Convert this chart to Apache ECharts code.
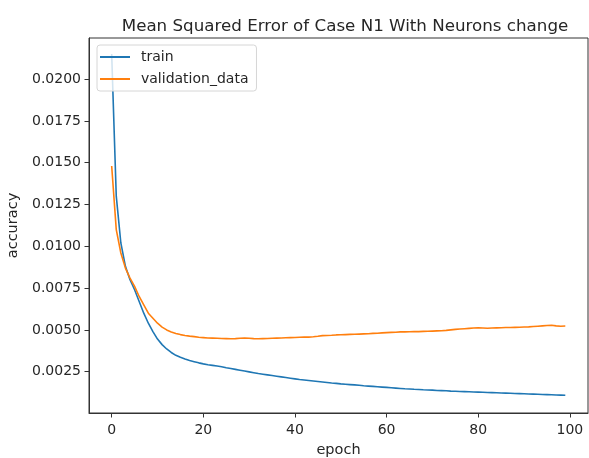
<!DOCTYPE html>
<html>
<head>
<meta charset="utf-8">
<script src="https://cdn.jsdelivr.net/npm/echarts@6/dist/echarts.min.js"></script>
<style>
  html, body { margin: 0; padding: 0; background: #fff; }
  #main { width: 589px; height: 458px; }
</style>
</head>
<body>
<div id="main"></div>
<script>
// one value per epoch (0..99)
var train = [
	0.0215, 0.0130, 0.0102, 0.0088, 0.0080, 0.0074, 0.0067, 0.0060, 0.0054, 0.0049,
	0.00445, 0.00412, 0.00386, 0.00365, 0.00348, 0.00336, 0.00326, 0.00317, 0.00310, 0.00303,
	0.00297, 0.00292, 0.00288, 0.00284, 0.00280, 0.00274, 0.00269, 0.00264, 0.00259, 0.00254,
	0.00249, 0.00244, 0.00239, 0.00235, 0.00231, 0.00227, 0.00223, 0.00219, 0.00215, 0.00211,
	0.00207, 0.00203, 0.00200, 0.00197, 0.00194, 0.00191, 0.00188, 0.00185, 0.00182, 0.00180,
	0.00177, 0.00175, 0.00173, 0.00171, 0.00169, 0.00166, 0.00164, 0.00162, 0.00160, 0.00158,
	0.00156, 0.00154, 0.00152, 0.00150, 0.00148, 0.00147, 0.00145, 0.00144, 0.00142, 0.00141,
	0.00140, 0.00138, 0.00137, 0.00136, 0.00134, 0.00133, 0.00132, 0.00131, 0.00130, 0.00129,
	0.00128, 0.00127, 0.00126, 0.00125, 0.00124, 0.00123, 0.00122, 0.00121, 0.00120, 0.00119,
	0.00118, 0.00117, 0.00116, 0.00115, 0.00114, 0.00113, 0.00112, 0.00111, 0.00110, 0.00109
];
var validation = [
	0.0148, 0.0110, 0.0096, 0.0087, 0.0081, 0.0076, 0.0070, 0.0065, 0.0060, 0.0057,
	0.00540, 0.00517, 0.00500, 0.00488, 0.00479, 0.00472, 0.00467, 0.00463, 0.00460, 0.00456,
	0.00454, 0.00452, 0.00451, 0.00450, 0.00449, 0.00448, 0.00447, 0.00448, 0.00450, 0.00451,
	0.00450, 0.00448, 0.00447, 0.00448, 0.00449, 0.00450, 0.00451, 0.00452, 0.00453, 0.00454,
	0.00455, 0.00456, 0.00457, 0.00457, 0.00459, 0.00462, 0.00466, 0.00467, 0.00468, 0.00470,
	0.00471, 0.00472, 0.00473, 0.00474, 0.00475, 0.00476, 0.00477, 0.00479, 0.00480, 0.00482,
	0.00484, 0.00485, 0.00486, 0.00488, 0.00488, 0.00489, 0.00490, 0.00490, 0.00491, 0.00492,
	0.00493, 0.00494, 0.00495, 0.00497, 0.00500, 0.00503, 0.00505, 0.00507, 0.00509, 0.00511,
	0.00512, 0.00511, 0.00510, 0.00511, 0.00512, 0.00513, 0.00514, 0.00514, 0.00515, 0.00516,
	0.00517, 0.00518, 0.00520, 0.00522, 0.00524, 0.00526, 0.00528, 0.00524, 0.00522, 0.00523
];
var xTicks = [0, 20, 40, 60, 80, 100];
var yTicks = [0.0025, 0.0050, 0.0075, 0.0100, 0.0125, 0.0150, 0.0175, 0.0200];
var seriesNames = ['train', 'validation_data'];

function pairs(arr) {
	var out = [];
	for (var i = 0; i < arr.length; i++) {
		out.push([i, arr[i]]);
	}
	return out;
}

var font = 'DejaVu Sans';
var ink = '#262626';

var myChart = echarts.init(document.getElementById('main'));

option = {
	animation: false,
	backgroundColor: '#fff',
	title: {
		text: 'Mean Squared Error of Case N1 With Neurons change',
		left: 340,
		textAlign: 'center',
		top: 13,
		textStyle: { fontFamily: font, fontSize: 16.7, fontWeight: 'normal', color: ink }
	},
	legend: {
		data: seriesNames,
		orient: 'vertical',
		left: 97,
		top: 45,
		padding: [5, 8, 5, 3],
		itemGap: 8,
		itemWidth: 30,
		itemHeight: 2,
		icon: 'rect',
		backgroundColor: 'rgba(255,255,255,0.8)',
		borderColor: '#d6d6d6',
		borderWidth: 1,
		borderRadius: 3,
		textStyle: { fontFamily: font, fontSize: 14, color: ink, padding: [0, 0, 0, 6] }
	},
	grid: {
		left: 89,
		right: 1,
		top: 38,
		bottom: 45,
		outerBoundsMode: 'none',
		containLabel: false,
		show: true,
		borderColor: '#333',
		borderWidth: 1
	},
	xAxis: {
		type: 'value',
		min: -4.95,
		max: 103.95,
		name: 'epoch',
		nameLocation: 'middle',
		nameGap: 30,
		nameTextStyle: { fontFamily: font, fontSize: 14.5, color: ink },
		splitLine: { show: false },
		axisLine: { show: true, onZero: false, lineStyle: { color: '#333' } },
		axisTick: { show: true, length: 4.5, customValues: xTicks, lineStyle: { color: '#333' } },
		axisLabel: {
			customValues: xTicks,
			fontFamily: font, fontSize: 14, color: ink, margin: 10
		}
	},
	yAxis: {
		type: 'value',
		min: 0.00003,
		max: 0.02246,
		name: 'accuracy',
		nameLocation: 'middle',
		nameGap: 57,
		nameTextStyle: { fontFamily: font, fontSize: 14.5, color: ink },
		splitLine: { show: false },
		axisLine: { show: true, onZero: false, lineStyle: { color: '#333' } },
		axisTick: { show: true, length: 4.5, customValues: yTicks, lineStyle: { color: '#333' } },
		axisLabel: {
			customValues: yTicks,
			fontFamily: font, fontSize: 14, color: ink, margin: 8,
			formatter: function(v) { return v.toFixed(4); }
		}
	},
	series: [
		{
			name: seriesNames[0],
			type: 'line',
			data: pairs(train),
			showSymbol: false,
			symbol: 'none',
			color: '#1f77b4',
			lineStyle: { width: 1.6, color: '#1f77b4' }
		},
		{
			name: seriesNames[1],
			type: 'line',
			data: pairs(validation),
			showSymbol: false,
			symbol: 'none',
			color: '#ff7f0e',
			lineStyle: { width: 1.6, color: '#ff7f0e' }
		}
	]
};
myChart.setOption(option);
</script>
</body>
</html>
